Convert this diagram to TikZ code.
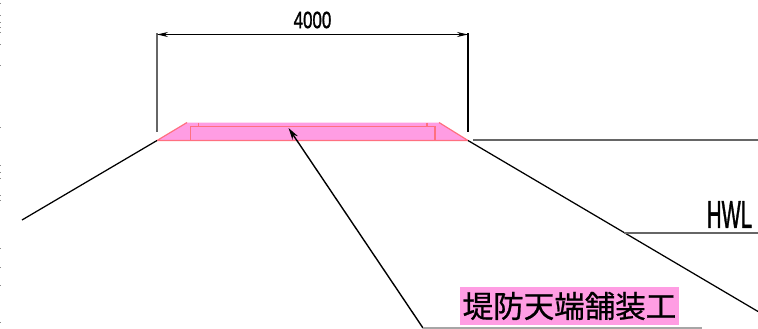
\documentclass[tikz,border=0pt]{standalone}
\usepackage{graphicx}
\usepackage{fontspec}
\setmainfont{Liberation Sans}[FakeBold=1.6]
\newfontfamily\cjk{Noto Sans CJK JP}[FakeBold=0.8]
\usetikzlibrary{arrows.meta}
\definecolor{pavefill}{HTML}{FF9DE3}
\definecolor{paveline}{HTML}{FF7080}
\tikzset{
  cadline/.style={draw=black,line width=1.25pt},
  greyline/.style={draw=black!60,line width=1.25pt},
  paveedge/.style={draw=paveline,line width=1.2pt},
  dimarrow/.style={cadline,{Stealth[length=11pt,width=5pt,open]}-{Stealth[length=11pt,width=5pt,open]}},
  leader/.style={cadline,line width=1.4pt,{Stealth[length=12pt,width=6.5pt]}-},
  plaintext/.style={inner sep=0pt,text=black}
}
\begin{document}
\begin{tikzpicture}[x=1pt,y=-1pt]
\useasboundingbox (0,0) rectangle (758,329);
% scan remnants on the left edge
\foreach \yy in {3,15,22,27,32,44,65,127,165,172,178,195,200,248,267,285,322}
  \fill[black!45] (0.2,\yy) rectangle (1.4,\yy+1.4);
% key points
\coordinate (bl) at (157,140.5);
\coordinate (tl) at (187,122.5);
\coordinate (tr) at (439,122.5);
\coordinate (br) at (468,140.5);
\coordinate (slopeL) at (22,220);
\coordinate (slopeR) at (758,311.5);
\coordinate (crownR) at (473,140);
\coordinate (crownE) at (758,140);
\coordinate (hwlA) at (624,233);
\coordinate (hwlB) at (758,233);
\coordinate (tip) at (288.5,128);
\coordinate (elbow) at (423,328);
\coordinate (lead) at (702,328);
\coordinate (dimLt) at (157,33);
\coordinate (dimLb) at (157,132);
\coordinate (dimRt) at (468,33);
\coordinate (dimRb) at (468,132);
\coordinate (dimLa) at (157,34.5);
\coordinate (dimRa) at (468,34.5);
% pavement
\fill[pavefill] (bl) -- (tl) -- (tr) -- (br) -- cycle;
\draw[paveedge] (bl) -- (tl) (tr) -- (br) (bl) -- (br);
\draw[paveedge] (190.5,140) -- (190.5,126.5) -- (435,126.5) -- (435,140);
\draw[paveedge] (198.5,122.5) -- (198.5,126.5) (427,122.5) -- (427,126.5);
% embankment
\draw[cadline] (bl) -- (slopeL);
\draw[cadline] (br) -- (slopeR);
\draw[greyline] (crownR) -- (crownE);
\draw[greyline] (hwlA) -- (hwlB);
% dimension
\draw[greyline] (dimLt) -- (dimLb);
\draw[cadline] (dimRt) -- (dimRb);
\draw[dimarrow] (dimLa) -- (dimRa);
\node[plaintext] (dimtext) at (312.5,20) {\scalebox{.72}[1]{\fontsize{23.5}{23.5}\selectfont 4000}};
\node[plaintext] (hwl) at (729.5,214.5) {\scalebox{.52}[1]{\fontsize{39}{39}\selectfont HWL}};
% leader and label
\draw[leader] (tip) -- (elbow);
\draw[draw=black!35,line width=1.25pt] (elbow) -- (lead);
\node[fill=pavefill,inner sep=0pt,minimum width=219pt,minimum height=38pt,text=black] (label) at (569.5,306)
  {\cjk\fontsize{30.5}{30.5}\selectfont 堤防天端舗装工};
\end{tikzpicture}
\end{document}
